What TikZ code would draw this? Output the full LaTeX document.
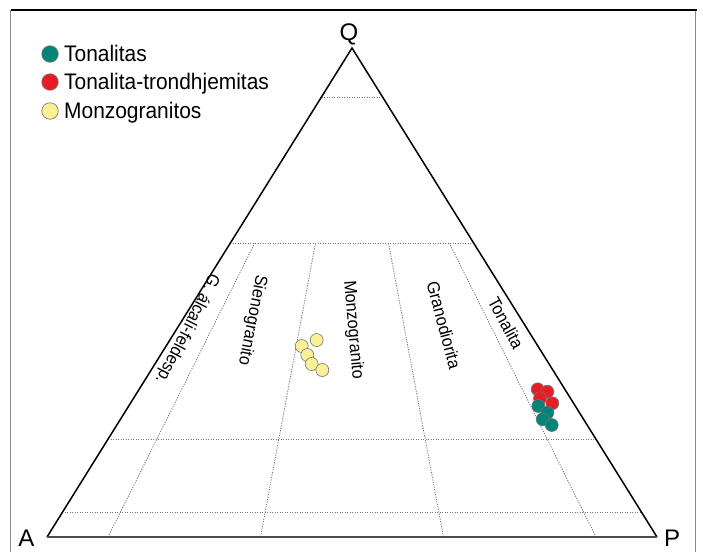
\documentclass[tikz,border=0pt]{standalone}
\usepackage{fontspec}
\setmainfont{Liberation Sans}
\newfontfamily\legfont[FakeStretch=0.93]{Liberation Sans}
\usetikzlibrary{calc}
\definecolor{tealdot}{RGB}{0,133,120}
\definecolor{reddot}{RGB}{230,30,36}
\definecolor{yeldot}{RGB}{250,240,150}
\begin{document}
\begin{tikzpicture}[x=1pt,y=-1pt,
  dot/.style={circle,draw=black!55,line width=0.6pt,minimum size=13pt,inner sep=0pt},
  legdot/.style={circle,draw=black!55,line width=0.6pt,minimum size=16.5pt,inner sep=0pt},
  gridline/.style={black!55,line width=0.8pt,dash pattern=on 1.2pt off 1.3pt},
  side/.style={black,line width=1.5pt},
  base/.style={black!70,line width=2.2pt},
  field/.style={font=\legfont\fontsize{17.5}{17.5}\selectfont,inner sep=0pt},
  vertex/.style={font=\fontsize{24}{24}\selectfont,inner sep=0pt,anchor=base},
  legtext/.style={font=\legfont\fontsize{22.5}{22.5}\selectfont,anchor=base west,inner sep=0pt}]
\useasboundingbox (0,0) rectangle (703,552);
% frame
\coordinate (fbl) at (10.5,552);
\coordinate (ftl) at (10.5,9.5);
\coordinate (ftr) at (695.5,9.5);
\coordinate (fbr) at (695.5,552);
\draw[black!45,line width=1.5pt] (fbl) -- (ftl);
\draw[black!45,line width=1.8pt] (ftr) -- (fbr);
\draw[black,line width=2pt] (ftl) -- (697,9.5);
% vertices
\coordinate (A) at (47,537);
\coordinate (P) at (657,537);
\coordinate (Q) at (352,48);
% horizontal grid lines
\foreach \t in {0.05,0.2,0.6,0.9}{
  \draw[gridline] ($(A)!\t!(Q)$) -- ($(P)!\t!(Q)$);
}
% radial lines
\foreach \r in {0.1,0.35,0.65,0.9}{
  \coordinate (b) at ($(A)!\r!(P)$);
  \draw[gridline] (b) -- ($(b)!0.6!(Q)$);
}
% triangle
\draw[side,line join=miter] (A) -- (Q) -- (P);
\draw[base] (A) -- (P);
% vertex labels
\node[vertex] (lQ) at (349,40) {Q};
\node[vertex] (lA) at (26.5,546) {A};
\node[vertex] (lP) at (672,546) {P};
% field labels
\node[field,rotate=-117] (f1) at (187,329) {G. álcali-feldesp.};
\node[field,rotate=-101] (f2) at (252,320) {Sienogranito};
\node[field,rotate=-85] (f3) at (353,330) {Monzogranito};
\node[field,rotate=-75] (f4) at (444,325) {Granodiorita};
\node[field,rotate=-62] (f5) at (506,323) {Tonalita};
% monzogranitos
\node[dot,fill=yeldot] (m1) at (316.7,340) {};
\node[dot,fill=yeldot] (m2) at (301.7,346) {};
\node[dot,fill=yeldot] (m3) at (307.3,355) {};
\node[dot,fill=yeldot] (m4) at (311.7,364) {};
\node[dot,fill=yeldot] (m5) at (322.3,370) {};
% tonalita-trondhjemitas
\node[dot,fill=reddot] (r1) at (537.7,389.3) {};
\node[dot,fill=reddot] (r2) at (547.3,391.7) {};
\node[dot,fill=reddot] (r3) at (540,398.3) {};
\node[dot,fill=reddot] (r4) at (552.3,403.3) {};
% tonalitas
\node[dot,fill=tealdot] (t1) at (538.3,406) {};
\node[dot,fill=tealdot] (t2) at (547.3,412.7) {};
\node[dot,fill=tealdot] (t3) at (542.7,419.3) {};
\node[dot,fill=tealdot] (t4) at (551.7,425) {};
% legend
\node[legdot,fill=tealdot] (k1) at (50,54) {};
\node[legdot,fill=reddot] (k2) at (50,82) {};
\node[legdot,fill=yeldot] (k3) at (50,111) {};
\node[legtext] (l1) at (64,61.8) {Tonalitas};
\node[legtext] (l2) at (64,89.8) {Tonalita-trondhjemitas};
\node[legtext] (l3) at (64,118.8) {Monzogranitos};
\end{tikzpicture}
\end{document}
